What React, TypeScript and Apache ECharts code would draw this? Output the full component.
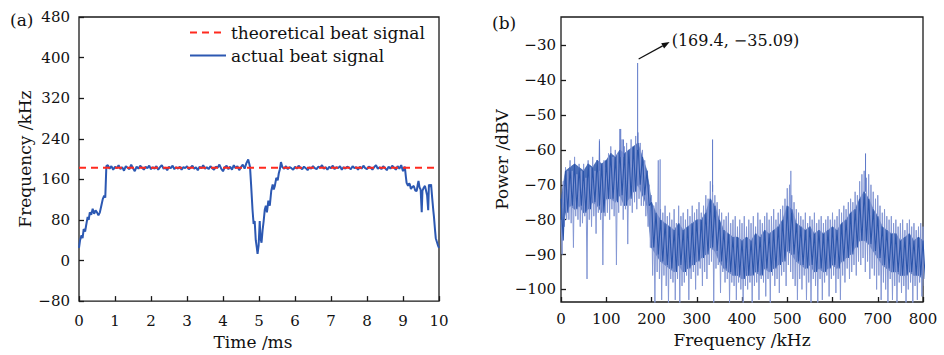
import React, { useEffect, useRef } from "react";
import * as echarts from "echarts";

// ---------- Panel (a): beat signal frequency vs time ----------
const timeMs = [
  0, 0.03, 0.07, 0.1, 0.13, 0.17, 0.2, 0.24, 0.27, 0.3, 0.34, 0.38, 0.42, 0.46, 0.5, 0.54, 0.58, 0.62, 0.66, 0.7, 0.73, 0.76,
  0.8, 0.85, 0.9, 0.95, 1.0, 1.05, 1.1, 1.15, 1.2, 1.25, 1.3, 1.35, 1.4, 1.45, 1.5, 1.55, 1.6, 1.65, 1.7, 1.75, 1.8, 1.85, 1.9, 1.95,
  2.0, 2.05, 2.1, 2.15, 2.2, 2.25, 2.3, 2.35, 2.4, 2.45, 2.5, 2.55, 2.6, 2.65, 2.7, 2.75, 2.8, 2.85, 2.9, 2.95,
  3.0, 3.05, 3.1, 3.15, 3.2, 3.25, 3.3, 3.35, 3.4, 3.45, 3.5, 3.55, 3.6, 3.65, 3.7, 3.75, 3.8, 3.85, 3.9, 3.95,
  4.0, 4.05, 4.1, 4.15, 4.2, 4.25, 4.3, 4.35, 4.4, 4.45, 4.5, 4.55, 4.6, 4.65, 4.7,
  4.75, 4.78, 4.82, 4.85, 4.88, 4.91, 4.94, 4.96, 4.99, 5.02, 5.04, 5.07, 5.1, 5.13, 5.16, 5.19, 5.22, 5.26, 5.3, 5.34, 5.38, 5.41, 5.44, 5.48, 5.52, 5.55, 5.58, 5.61, 5.65,
  5.7, 5.75, 5.8, 5.85, 5.9, 5.95, 6.0, 6.05, 6.1, 6.15, 6.2, 6.25, 6.3, 6.35, 6.4, 6.45, 6.5, 6.55, 6.6, 6.65, 6.7, 6.75, 6.8, 6.85, 6.9, 6.95,
  7.0, 7.05, 7.1, 7.15, 7.2, 7.25, 7.3, 7.35, 7.4, 7.45, 7.5, 7.55, 7.6, 7.65, 7.7, 7.75, 7.8, 7.85, 7.9, 7.95,
  8.0, 8.05, 8.1, 8.15, 8.2, 8.25, 8.3, 8.35, 8.4, 8.45, 8.5, 8.55, 8.6, 8.65, 8.7, 8.75, 8.8, 8.85, 8.9, 8.95, 9.0, 9.05,
  9.08, 9.1, 9.14, 9.17, 9.19, 9.22, 9.26, 9.3, 9.34, 9.38, 9.41, 9.43, 9.46, 9.49, 9.52, 9.54, 9.57, 9.61, 9.64, 9.67, 9.7, 9.72, 9.75, 9.78, 9.81, 9.84, 9.86, 9.89, 9.91, 9.94, 9.97, 10,
];
const actualKHz = [
  25, 40, 50, 44, 62, 57, 70, 86, 80, 95, 90, 102, 92, 99, 95, 89, 95, 108, 121, 128, 124, 186,
  188, 181, 186, 179, 185, 182, 188, 180, 184, 177, 186, 183, 180, 189, 182, 176, 185, 181, 187, 183, 179, 185, 182, 187,
  180, 184, 181, 186, 179, 184, 188, 181, 183, 178, 185, 182, 187, 180, 184, 181, 185, 179, 184, 182,
  186, 180, 183, 187, 181, 184, 178, 185, 182, 188, 181, 184, 180, 186, 182, 179, 185, 183, 189, 181,
  176, 184, 187, 180, 185, 179, 188, 182, 186, 178, 184, 189, 181, 192, 199,
  185, 150, 100, 72, 78, 40, 25, 13, 30, 78, 45, 35, 60, 78, 100, 108, 95, 118, 108, 137, 150, 140, 147, 163, 158, 172, 180, 194, 184,
  181, 186, 180, 184, 182, 179, 185, 181, 187, 183, 180, 185, 182, 178, 184, 181, 186, 182, 180, 185, 183, 188, 181, 184, 179, 185,
  182, 187, 180, 184, 182, 186, 179, 184, 181, 185, 183, 180, 186, 182, 184, 179, 185, 181, 187, 182,
  180, 185, 183, 179, 184, 188, 181, 184, 180, 186, 182, 178, 185, 181, 187, 183, 179, 186, 181, 188, 176, 185,
  165, 153, 147, 152, 150, 141, 145, 147, 138, 137, 150, 157, 144, 140, 95, 137, 143, 147, 138, 128, 99, 150, 145, 150, 124, 100, 86, 60, 44, 37, 30, 25,
];
const theoreticalKHz = 183;
const timeRangeMs = [0, 10];

// ---------- Panel (b): power spectrum ----------
const spikeStepKHz = 5; // light noise envelope, one high & one low value per step
const spikeHigh = [
  -80, -69, -65, -66, -63, -66, -62, -67, -64, -66, -64, -68, -63, -65, -62, -66, -63, -57, -64, -63,
  -65, -61, -59, -62, -60, -61, -54, -57, -59, -58, -60, -57, -59, -56, -55, -58, -60, -63, -66, -70,
  -73, -76, -75, -63, -77, -78, -76, -79, -78, -80, -77, -81, -76, -79, -78, -80, -77, -79, -76, -78,
  -77, -75, -78, -76, -73, -74, -69, -70, -73, -75, -77, -78, -80, -79, -78, -81, -80, -79, -82, -80,
  -81, -79, -82, -80, -81, -79, -82, -78, -80, -81, -79, -78, -80, -79, -77, -80, -78, -77, -76, -74,
  -71, -70, -73, -75, -77, -78, -79, -80, -78, -81, -79, -80, -78, -81, -80, -79, -81, -80, -79, -80,
  -78, -80, -79, -77, -78, -76, -77, -75, -74, -75, -72, -73, -69, -67, -66, -68, -67, -70, -72, -74,
  -73, -76, -78, -77, -79, -80, -79, -81, -80, -82, -81, -80, -83, -81, -80, -82, -81, -83, -82, -81,
  -82,
];
const spikeLow = [
  -90, -82, -80, -80, -81, -88, -79, -80, -82, -81, -79, -97, -80, -82, -79, -84, -78, -80, -93, -79,
  -78, -80, -77, -79, -93, -78, -76, -80, -77, -87, -76, -78, -75, -77, -74, -76, -76, -79, -82, -88,
  -96, -104, -95, -97, -103, -96, -99, -104, -97, -98, -103, -97, -104, -99, -98, -96, -103, -97, -95, -100,
  -96, -94, -99, -95, -97, -93, -92, -104, -94, -93, -101, -95, -98, -97, -104, -98, -99, -103, -98, -100,
  -104, -99, -100, -98, -104, -99, -98, -103, -97, -98, -102, -97, -104, -96, -99, -97, -101, -96, -95, -99,
  -93, -95, -97, -99, -103, -97, -100, -96, -103, -98, -104, -97, -99, -104, -97, -103, -98, -96, -102, -97,
  -96, -101, -97, -103, -96, -98, -94, -97, -95, -93, -96, -92, -93, -91, -95, -92, -97, -94, -96, -100,
  -96, -103, -98, -100, -104, -97, -103, -99, -104, -98, -101, -99, -104, -100, -98, -104, -99, -103, -98, -102,
  -99,
];
const coreStepKHz = 10; // dense core band, one high & one low value per step
const coreHigh = [
  -74, -66, -65, -64, -65, -66, -64, -65, -63, -64, -63, -61, -62, -60, -61, -60, -59, -58, -62, -66,
  -75, -78, -80, -81, -82, -83, -81, -83, -82, -81, -80, -80, -78, -74, -76, -80, -83, -84, -85, -85,
  -86, -85, -86, -84, -85, -83, -84, -83, -82, -80, -76, -77, -81, -82, -83, -82, -84, -83, -84, -83,
  -82, -83, -81, -80, -78, -77, -74, -72, -74, -77, -79, -82, -83, -84, -84, -86, -85, -84, -86, -85,
  -86,
];
const coreLow = [
  -86, -78, -76, -77, -76, -78, -77, -75, -76, -78, -74, -74, -75, -73, -76, -74, -72, -70, -73, -76,
  -88, -90, -92, -93, -94, -95, -93, -95, -94, -93, -92, -91, -90, -88, -89, -92, -94, -95, -96, -96,
  -97, -96, -96, -95, -96, -94, -95, -94, -93, -92, -89, -90, -92, -93, -94, -93, -95, -94, -95, -94,
  -93, -94, -92, -91, -90, -88, -86, -86, -87, -89, -91, -93, -94, -95, -95, -96, -96, -95, -96, -96,
  -97,
];
const peakFreqKHz = [85, 132, 138, 169.4, 219, 335, 508, 673];
const peakPowerDBV = [-57.5, -54, -57, -35.09, -62.7, -57, -66, -61];
const peakBaseDBV = [-66, -62, -62, -60, -80, -72, -78, -72];
const powerTicks = [-100, -90, -80, -70, -60, -50, -40, -30];
const annotatedPeak = [169.4, -35.09];

const FONT = "DejaVu Serif";
const minus = (v: number) => String(v).replace("-", "\u2212");
const BAND = "#2c56ab";

export default function App() {
  const ref = useRef<HTMLDivElement>(null);

  useEffect(() => {
    if (!ref.current) return;
    const chart = echarts.init(ref.current, undefined, { renderer: "svg" });

    const actualData = timeMs.map((t, i) => [t, actualKHz[i]]);
    const theoData = timeRangeMs.map((t) => [t, theoreticalKHz]);

    const spikeData: any[] = [];
    spikeHigh.forEach((v, i) => {
      spikeData.push([i * spikeStepKHz, v]);
      spikeData.push([i * spikeStepKHz + spikeStepKHz / 2, spikeLow[i]]);
    });
    const coreData: any[] = [];
    coreHigh.forEach((v, i) => {
      coreData.push([i * coreStepKHz, v]);
      coreData.push([i * coreStepKHz + coreStepKHz / 2, coreLow[i]]);
    });
    // band segments: [f0, low0, high0, f1, low1, high1]
    const bandData: any[] = [];
    for (let i = 0; i < coreHigh.length - 1; i++) {
      bandData.push([i * coreStepKHz, coreLow[i], coreHigh[i], (i + 1) * coreStepKHz, coreLow[i + 1], coreHigh[i + 1]]);
    }
    const peakData: any[] = [];
    peakFreqKHz.forEach((f, i) => {
      peakData.push([f, peakBaseDBV[i]]);
      peakData.push([f, peakPowerDBV[i]]);
      peakData.push([f, "-"]);
    });

    const axisLabelStyle = { fontFamily: FONT, fontSize: 15, color: "#111" };
    const nameStyle = { fontFamily: FONT, fontSize: 17, color: "#111" };
    const tick = { inside: true, length: 5, lineStyle: { color: "#1a1a1a", width: 1.3 } };

    chart.setOption({
      animation: false,
      textStyle: { fontFamily: FONT },
      grid: [
        { left: 79, top: 17, width: 360, height: 290, show: true, borderColor: "#1a1a1a", borderWidth: 1.3, backgroundColor: "transparent" },
        { left: 561, top: 17, width: 362, height: 285, show: true, borderColor: "#1a1a1a", borderWidth: 1.3, backgroundColor: "transparent" },
      ],
      legend: {
        data: ["theoretical beat signal", "actual beat signal"],
        orient: "vertical",
        left: 189,
        top: 24,
        itemWidth: 36,
        itemHeight: 14,
        itemGap: 6,
        padding: 0,
        itemStyle: { opacity: 0 },
        textStyle: { fontFamily: FONT, fontSize: 17, color: "#111" },
      },
      xAxis: [
        {
          gridIndex: 0, type: "value", min: 0, max: 10, interval: 1,
          axisLine: { show: false, onZero: false },
          axisTick: tick,
          splitLine: { show: false },
          axisLabel: { ...axisLabelStyle, margin: 12, formatter: minus },
          name: "Time /ms", nameLocation: "middle", nameGap: 30,
          nameTextStyle: { ...nameStyle, padding: [0, 12, 0, 0] },
        },
        {
          gridIndex: 1, type: "value", min: 0, max: 800, interval: 100,
          axisLine: { show: false, onZero: false },
          axisTick: tick,
          splitLine: { show: false },
          axisLabel: { ...axisLabelStyle, margin: 9, formatter: minus },
          name: "Frequency /kHz", nameLocation: "middle", nameGap: 29,
          nameTextStyle: nameStyle,
        },
      ],
      yAxis: [
        {
          gridIndex: 0, type: "value", min: -80, max: 480, interval: 80,
          axisLine: { show: false, onZero: false },
          axisTick: tick,
          splitLine: { show: false },
          axisLabel: { ...axisLabelStyle, margin: 9, formatter: minus },
          name: "Frequency /kHz", nameLocation: "middle", nameGap: 46,
          nameTextStyle: nameStyle,
        },
        {
          gridIndex: 1, type: "value", min: -103.6, max: -21.9,
          axisLine: { show: false, onZero: false },
          axisTick: { ...tick, customValues: powerTicks },
          splitLine: { show: false },
          axisLabel: { ...axisLabelStyle, margin: 5, customValues: powerTicks, formatter: minus },
          name: "Power /dBV", nameLocation: "middle", nameGap: 48,
          nameTextStyle: nameStyle,
        },
      ],
      series: [
        {
          name: "actual beat signal", type: "line", xAxisIndex: 0, yAxisIndex: 0,
          data: actualData, symbol: "none", lineStyle: { color: "#2c58b2", width: 2 }, itemStyle: { color: "#2c58b2" },
        },
        {
          name: "theoretical beat signal", type: "line", xAxisIndex: 0, yAxisIndex: 0,
          data: theoData, symbol: "none", lineStyle: { color: "#ff2a1f", width: 2, type: [7, 5] }, itemStyle: { color: "#ff2a1f" },
        },
        {
          name: "spectrum-noise", type: "line", xAxisIndex: 1, yAxisIndex: 1,
          data: spikeData, symbol: "none", lineStyle: { color: "#8598d4", width: 1 }, silent: true,
        },
        {
          name: "spectrum-band", type: "custom", xAxisIndex: 1, yAxisIndex: 1, silent: true, clip: true,
          data: bandData,
          encode: { x: [0, 3], y: [1, 2, 4, 5] },
          renderItem: (params: any, api: any) => {
            const a = api.coord([api.value(0), api.value(2)]);
            const b = api.coord([api.value(3), api.value(5)]);
            const c = api.coord([api.value(3), api.value(4)]);
            const d = api.coord([api.value(0), api.value(1)]);
            return {
              type: "polygon",
              shape: { points: [a, b, c, d] },
              style: { fill: BAND, stroke: BAND, lineWidth: 0.6, opacity: 0.85 },
            };
          },
        },
        {
          name: "spectrum-core", type: "line", xAxisIndex: 1, yAxisIndex: 1,
          data: coreData, symbol: "none", lineStyle: { color: "#2a54ab", width: 1.1 }, silent: true,
        },
        {
          name: "spectrum-peaks", type: "line", xAxisIndex: 1, yAxisIndex: 1,
          data: peakData, symbol: "none", connectNulls: false, lineStyle: { color: "#5a76c8", width: 1 }, silent: true,
        },
      ],
    });

    const p = chart.convertToPixel({ gridIndex: 1 }, annotatedPeak) as number[];
    const tail = [p[0] + 1, p[1] - 4];
    const head = [p[0] + 32, p[1] - 21];
    const dx = head[0] - tail[0];
    const dy = head[1] - tail[1];
    const len = Math.sqrt(dx * dx + dy * dy);
    const ux = dx / len;
    const uy = dy / len;
    const ah = 8;
    const aw = 3;
    const base = [head[0] - ux * ah, head[1] - uy * ah];
    chart.setOption({
      graphic: [
        { type: "text", x: 10, y: 20, style: { text: "(a)", font: `17px '${FONT}'`, fill: "#111", verticalAlign: "middle" } },
        { type: "text", x: 492, y: 23, style: { text: "(b)", font: `17px '${FONT}'`, fill: "#111", verticalAlign: "middle" } },
        { type: "line", shape: { x1: tail[0], y1: tail[1], x2: base[0], y2: base[1] }, style: { stroke: "#111", lineWidth: 1.2 } },
        {
          type: "polygon",
          shape: { points: [head, [base[0] - uy * aw, base[1] + ux * aw], [base[0] + uy * aw, base[1] - ux * aw]] },
          style: { fill: "#111" },
        },
        {
          type: "text", x: head[0] + 2, y: head[1] - 2,
          style: { text: "(169.4, \u221235.09)", font: `16px '${FONT}'`, fill: "#111", verticalAlign: "middle" },
        },
      ],
    });

    return () => chart.dispose();
  }, []);

  return <div ref={ref} style={{ position: "absolute", left: 0, top: 0, width: 944, height: 355 }} />;
}
